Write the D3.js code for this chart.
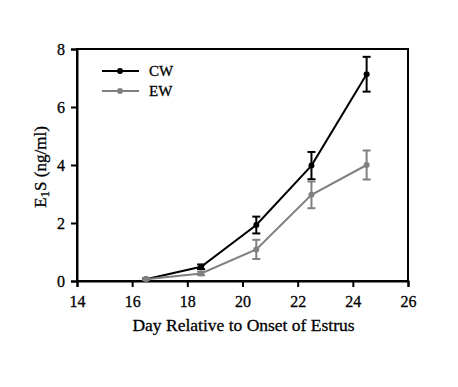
<!DOCTYPE html>
<html><head><meta charset="utf-8">
<script src="https://cdn.jsdelivr.net/npm/d3@7"></script>
<style>body{margin:0;background:#fff}svg{display:block}svg text{font-family:"Liberation Serif","Times New Roman",serif !important;stroke:#000;stroke-width:0.3px}</style>
</head><body>
<script>
const days = [16.5, 18.5, 20.5, 22.5, 24.5];
const cwMean = [0.06, 0.49, 1.93, 3.98, 7.13];
const cwErr  = [0.03, 0.08, 0.29, 0.47, 0.6];
const ewMean = [0.06, 0.26, 1.09, 2.97, 4.0];
const ewErr  = [0.03, 0.06, 0.33, 0.46, 0.5];
const xTicks = [14, 16, 18, 20, 22, 24, 26];
const yTicks = [0, 2, 4, 6, 8];
const seriesNames = ["CW", "EW"];
const colors = ["#000000", "#808080"];

const W = 458, H = 387;
const m = {left: 77, right: 50, top: 49, bottom: 106};
const svg = d3.select("body").append("svg").attr("width", W).attr("height", H);
const x = d3.scaleLinear().domain([14, 26]).range([m.left, W - m.right]);
const y = d3.scaleLinear().domain([0, 8]).range([H - m.bottom, m.top]);

// frame
svg.append("rect").attr("x", x(14)).attr("y", y(8)).attr("width", x(26) - x(14)).attr("height", y(0) - y(8))
  .attr("fill", "none").attr("stroke", "#000").attr("stroke-width", 2);

const xa = svg.append("g").attr("transform", `translate(0,${y(0)})`)
  .call(d3.axisBottom(x).tickValues(xTicks).tickSize(6).tickPadding(9));
const ya = svg.append("g").attr("transform", `translate(${x(14)},0)`)
  .call(d3.axisLeft(y).tickValues(yTicks).tickSize(6).tickPadding(6));
[xa, ya].forEach(a => {
  a.attr("font-family", null).attr("font-size", null);
  a.selectAll("path").attr("stroke-width", 2);
  a.selectAll("line").attr("stroke-width", 2);
  a.selectAll("text").style("font-size", "16px");
});

const series = [
  {name: seriesNames[0], mean: cwMean, err: cwErr, color: colors[0]},
  {name: seriesNames[1], mean: ewMean, err: ewErr, color: colors[1]}
];
const line = d3.line().x(d => x(d.x)).y(d => y(d.y));
series.forEach(s => {
  const pts = days.map((d, i) => ({x: d, y: s.mean[i], e: s.err[i]}));
  const g = svg.append("g");
  g.append("path").datum(pts).attr("d", line).attr("fill", "none").attr("stroke", s.color).attr("stroke-width", 2);
  pts.forEach(p => {
    g.append("line").attr("x1", x(p.x)).attr("x2", x(p.x)).attr("y1", y(p.y - p.e)).attr("y2", y(p.y + p.e))
      .attr("stroke", s.color).attr("stroke-width", 2);
    [p.y - p.e, p.y + p.e].forEach(v => g.append("line").attr("x1", x(p.x) - 4).attr("x2", x(p.x) + 4)
      .attr("y1", y(v)).attr("y2", y(v)).attr("stroke", s.color).attr("stroke-width", 2));
    g.append("circle").attr("cx", x(p.x)).attr("cy", y(p.y)).attr("r", 3).attr("fill", s.color);
  });
});

// legend
series.forEach((s, i) => {
  const ly = 71 + i * 20;
  svg.append("line").attr("x1", 102).attr("x2", 139).attr("y1", ly).attr("y2", ly).attr("stroke", s.color).attr("stroke-width", 2);
  svg.append("circle").attr("cx", 120).attr("cy", ly).attr("r", 3).attr("fill", s.color);
  svg.append("text").attr("x", 149).attr("y", ly + 5).style("font-size", "15px").text(s.name);
});

// axis titles
svg.append("text").attr("x", (x(14) + x(26)) / 2 + 1).attr("y", 331).attr("text-anchor", "middle").style("font-size", "17.5px")
  .text("Day Relative to Onset of Estrus");
const yt = svg.append("text").attr("transform", `translate(46,${(y(0) + y(8)) / 2 + 2}) rotate(-90)`).attr("text-anchor", "middle").style("font-size", "17px");
yt.append("tspan").text("E");
yt.append("tspan").style("font-size", "13px").attr("dy", 3).text("1");
yt.append("tspan").attr("dy", -3).text("S (ng/ml)");
</script>
</body></html>
